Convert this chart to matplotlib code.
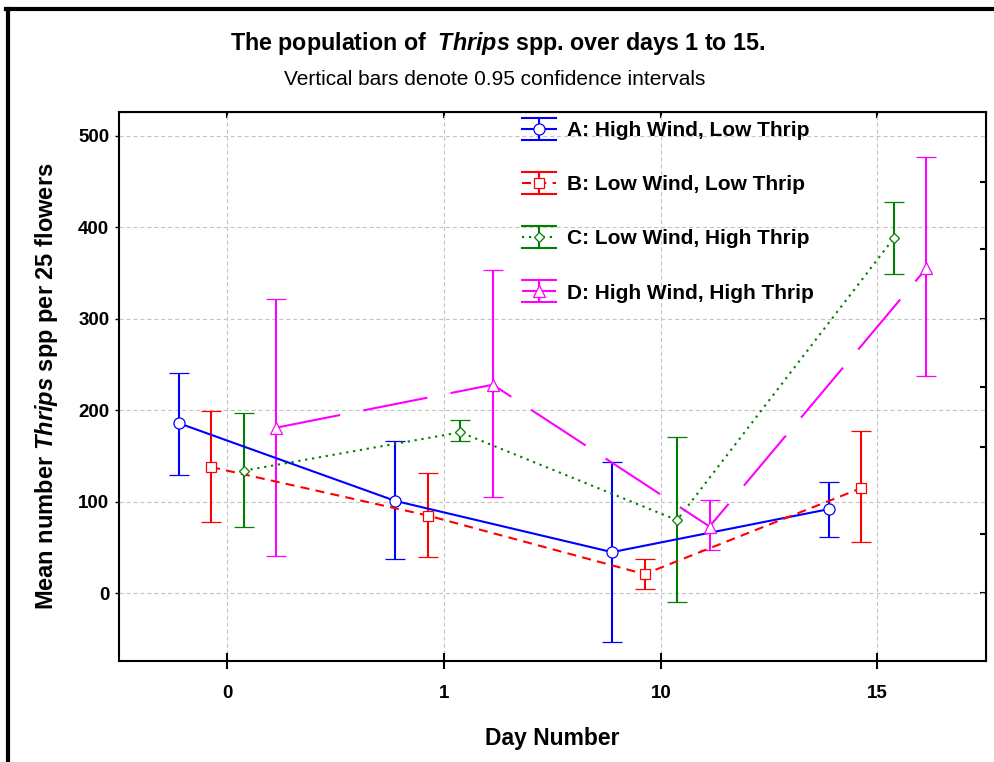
import matplotlib
matplotlib.use('Agg')
import matplotlib.pyplot as plt
import numpy as np
from matplotlib.lines import Line2D
from matplotlib.legend_handler import HandlerBase

# data (means and 0.95 CI limits)
days = ['0', '1', '10', '15']
groups = ['A: High Wind, Low Thrip', 'B: Low Wind, Low Thrip',
          'C: Low Wind, High Thrip', 'D: High Wind, High Thrip']

mean_a = [186, 101, 45, 92]
low_a = [129, 37, -53, 62]
high_a = [241, 166, 144, 122]

mean_b = [138, 85, 21, 115]
low_b = [78, 40, 5, 56]
high_b = [199, 132, 38, 177]

mean_c = [134, 176, 80, 388]
low_c = [73, 167, -10, 349]
high_c = [197, 189, 171, 428]

mean_d = [181, 228, 73, 355]
low_d = [41, 105, 47, 237]
high_d = [322, 353, 102, 477]

right_ticks = [0, 65, 160, 225, 300, 376, 450]

plt.rcParams['font.family'] = ['Liberation Sans', 'DejaVu Sans']
plt.rcParams['mathtext.fontset'] = 'custom'
plt.rcParams['mathtext.rm'] = 'Liberation Sans'
plt.rcParams['mathtext.it'] = 'Liberation Sans:italic'
plt.rcParams['mathtext.bf'] = 'Liberation Sans:bold'
plt.rcParams['mathtext.bfit'] = 'Liberation Sans:italic:bold'
plt.rcParams['lines.scale_dashes'] = False


class ErrHandler(HandlerBase):
    # legend key: caps across the key, vertical bar, styled line and marker
    def create_artists(self, legend, orig_handle, xdescent, ydescent,
                       width, height, fontsize, trans):
        x0 = -xdescent
        x1 = x0 + width
        xm = (x0 + x1) / 2
        ym = -ydescent + height / 2
        dy = 8
        c = orig_handle.get_color()
        arts = [Line2D([x0, x1], [ym - dy, ym - dy], color=c, lw=1.5),
                Line2D([x0, x1], [ym + dy, ym + dy], color=c, lw=1.5),
                Line2D([xm, xm], [ym - dy, ym + dy], color=c, lw=1.5)]
        ln = Line2D([x0, x1], [ym, ym])
        ln.update_from(orig_handle)
        ln.set_marker('None')
        mk = Line2D([xm], [ym])
        mk.update_from(orig_handle)
        mk.set_linestyle('None')
        arts += [ln, mk]
        for a in arts:
            a.set_transform(trans)
        return arts


fig = plt.figure(figsize=(9.95, 7.62), dpi=100)
ax = fig.add_axes([0.1196, 0.1325, 0.8712, 0.7205])

x = np.arange(len(days))
series = [
    (mean_a, low_a, high_a, '#0000ff', 'o', 8, (None, None), -0.225),
    (mean_b, low_b, high_b, '#ff0000', 's', 7.5, (0, (6.5, 4.5)), -0.075),
    (mean_c, low_c, high_c, '#008000', 'D', 5.5, (0, (1.6, 3.4)), 0.075),
    (mean_d, low_d, high_d, '#ff00ff', '^', 8, (0, (47, 17)), 0.225),
]

handles = []
for (m, lo, hi, col, mk, ms, dash, off), name in zip(series, groups):
    m = np.array(m)
    err = [m - np.array(lo), np.array(hi) - m]
    ls = '-' if dash[0] is None else dash
    cont = ax.errorbar(x + off, m, yerr=err, color=col, lw=1.5, ls=ls,
                       marker=mk, ms=ms, mfc='white', mec=col, mew=0.9,
                       capsize=7.5, capthick=1.5, elinewidth=1.5, label=name)
    handles.append(cont[0])

ax.set_xlim(-0.5, 3.5)
ax.set_ylim(-74, 526)
ax.set_xticks(x)
ax.set_xticklabels(days)
ax.set_yticks([0, 100, 200, 300, 400, 500])

ax.grid(True, color='#c4c4c4', lw=0.8, ls=(0, (3, 2)))
ax.set_axisbelow(True)
for s in ax.spines.values():
    s.set_linewidth(1.5)

ax.tick_params(axis='x', direction='inout', length=12, width=1.5, pad=11,
               labelsize=13.5, colors='black')
ax.tick_params(axis='y', direction='out', length=3, width=1.0, pad=4,
               labelsize=13.5)
for lab in ax.get_xticklabels() + ax.get_yticklabels():
    lab.set_fontweight('bold')

top = ax.secondary_xaxis('top')
top.set_xticks(x)
top.tick_params(direction='in', length=4, width=1.5, labeltop=False)
right = ax.secondary_yaxis('right')
right.set_yticks(right_ticks)
right.tick_params(direction='in', length=4, width=1.5, labelright=False)

ax.set_xlabel('Day Number', fontsize=16.5, fontweight='bold', labelpad=18)
ax.set_ylabel('Mean number $\\mathbfit{Thrips}$ spp per 25 flowers',
              fontsize=17, fontweight='bold', labelpad=13)

fig.text(0.5, 0.943, 'The population of  $\\mathbfit{Thrips}$ spp. over days 1 to 15.',
         ha='center', va='center', fontsize=16.75, fontweight='bold')
fig.text(0.497, 0.896, 'Vertical bars denote 0.95 confidence intervals',
         ha='center', va='center', fontsize=15)

ax.legend(handles, groups, handler_map={Line2D: ErrHandler()},
          loc='upper left', bbox_to_anchor=(522 / 995, 1 - 121 / 762),
          bbox_transform=fig.transFigure, frameon=False, borderpad=0,
          borderaxespad=0, handlelength=1.63, handletextpad=0.53,
          labelspacing=1.69, prop={'size': 15, 'weight': 'bold'})

# figure frame on the left and top
fig.add_artist(Line2D([8 / 995, 8 / 995], [0, 1 - 9 / 762],
                      color='black', lw=3, transform=fig.transFigure))
fig.add_artist(Line2D([6.5 / 995, 1], [1 - 9 / 762, 1 - 9 / 762],
                      color='black', lw=3, transform=fig.transFigure))

fig.savefig('out.png', dpi=100)
